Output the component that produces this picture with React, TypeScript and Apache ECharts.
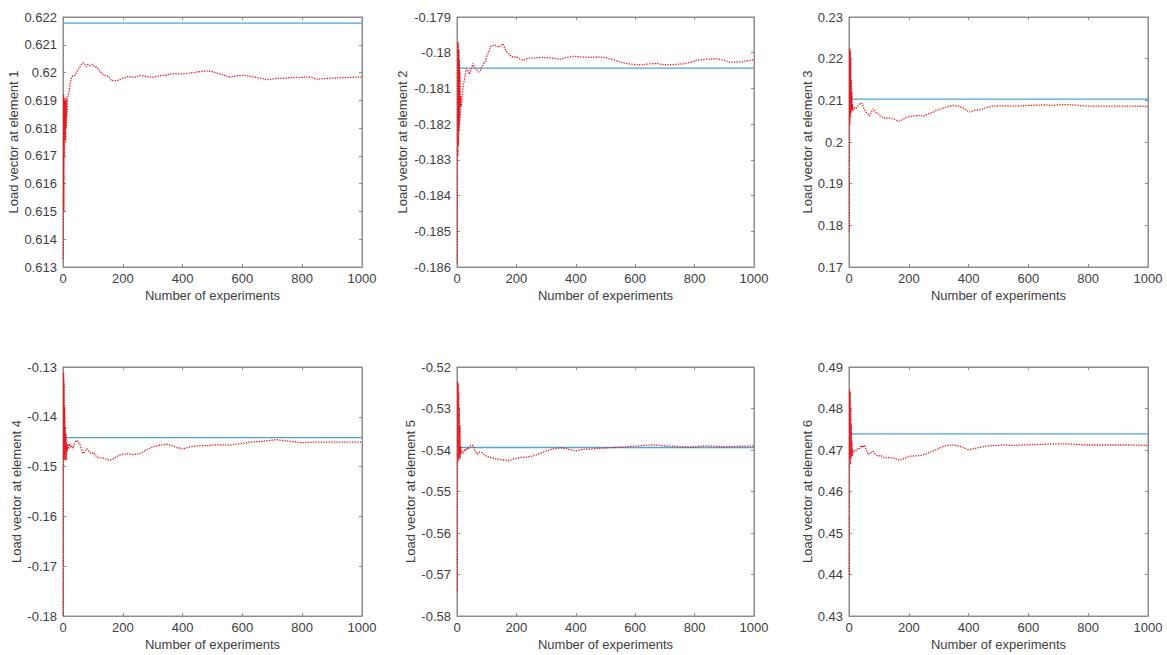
import React, { useEffect, useRef } from "react";
import * as echarts from "echarts";

// ---- data ----
const xTicks = [0, 200, 400, 600, 800, 1000];
const yLabels = [
  "Load vector at element 1",
  "Load vector at element 2",
  "Load vector at element 3",
  "Load vector at element 4",
  "Load vector at element 5",
  "Load vector at element 6",
];
const trueValues = [0.62178, -0.18043, 0.2103, -0.1442, -0.5394, 0.4739];
const yMin = [0.613, -0.186, 0.17, -0.18, -0.58, 0.43];
const yMax = [0.622, -0.179, 0.23, -0.13, -0.52, 0.49];
const yStep = [0.001, 0.001, 0.01, 0.01, 0.01, 0.01];

const xs1 = [1,2,3,4,5,6,7,8,9,10,11,12,13,15,17,20,24,28,33,39,45,50,56,62,67,72,78,84,90,97,105,112,120,128,136,145,153,162,170,179,190,200,212,225,240,246,260,280,302,320,340,369,400,436,460,480,500,525,545,559,580,603,630,660,682,710,737,770,800,827,849,870,905,940,970,1000];
const ys1 = [0.6133,0.6192,0.615,0.6191,0.617,0.619,0.6176,0.6189,0.6175,0.6191,0.618,0.619,0.6184,0.6191,0.6191,0.6193,0.6196,0.6198,0.6199,0.6199,0.62,0.6201,0.6202,0.6203,0.62035,0.6203,0.6202,0.6203,0.62025,0.6203,0.6202,0.6202,0.6201,0.62,0.6199,0.6199,0.61985,0.6197,0.61972,0.6197,0.61975,0.6198,0.61984,0.61985,0.61983,0.61985,0.6199,0.61985,0.61983,0.61988,0.6199,0.61996,0.61995,0.62,0.62004,0.62006,0.62003,0.61995,0.61988,0.61984,0.61988,0.6199,0.61986,0.6198,0.61974,0.61978,0.6198,0.61982,0.61983,0.61984,0.61976,0.61978,0.6198,0.61982,0.61983,0.61984];

const xs2 = [1,2,3,4,5,6,7,8,9,10,11,12,14,17,21,25,28,31,35,39,42,45,50,54,58,63,68,73,78,84,90,95,100,106,112,120,126,133,140,148,155,162,168,176,185,200,212,224,240,260,280,300,320,336,350,370,392,420,448,470,493,520,549,570,594,620,650,673,690,710,729,762,790,807,840,874,900,919,940,964,1000];
const ys2 = [-0.1859,-0.1797,-0.1829,-0.1797,-0.1826,-0.1799,-0.1822,-0.1802,-0.182,-0.1805,-0.1818,-0.1812,-0.1815,-0.1813,-0.1809,-0.18077,-0.1806,-0.18045,-0.1805,-0.1805,-0.1806,-0.18054,-0.1804,-0.1803,-0.1804,-0.18045,-0.1805,-0.18054,-0.1805,-0.1804,-0.1803,-0.18026,-0.1801,-0.18,-0.17984,-0.1798,-0.17979,-0.1798,-0.17985,-0.1798,-0.17975,-0.1799,-0.17998,-0.18005,-0.18012,-0.18012,-0.18018,-0.18021,-0.18015,-0.18015,-0.18013,-0.18014,-0.18015,-0.18017,-0.18018,-0.18013,-0.1801,-0.18012,-0.18013,-0.18012,-0.18013,-0.18018,-0.18026,-0.1803,-0.18033,-0.18034,-0.18031,-0.1803,-0.18033,-0.18034,-0.18033,-0.18031,-0.18026,-0.18021,-0.18018,-0.18017,-0.18021,-0.18027,-0.18026,-0.18025,-0.18019];

const xs3 = [1,2,3,4,5,6,7,8,9,10,11,12,14,16,19,23,27,32,37,41,45,50,56,62,69,75,80,84,90,97,103,110,118,123,130,140,147,155,162,169,180,190,197,210,224,236,250,265,280,292,310,330,348,365,381,395,404,420,437,460,482,510,548,580,615,650,680,716,750,794,840,883,940,1000];
const ys3 = [0.1785,0.2225,0.204,0.222,0.206,0.22,0.207,0.215,0.208,0.212,0.2075,0.209,0.2078,0.2076,0.2082,0.208,0.2084,0.2088,0.2092,0.2094,0.209,0.208,0.2072,0.2068,0.2062,0.2072,0.208,0.2078,0.207,0.2068,0.2064,0.206,0.2058,0.2056,0.2058,0.2057,0.2056,0.2053,0.2051,0.205,0.2054,0.2058,0.206,0.2062,0.2063,0.2064,0.2062,0.2068,0.2071,0.2076,0.208,0.2085,0.2088,0.2086,0.2082,0.2075,0.2072,0.2076,0.2077,0.2083,0.2086,0.2087,0.2086,0.2087,0.2088,0.2089,0.2088,0.209,0.2089,0.2086,0.2086,0.2086,0.2086,0.20856];

const xs4 = [1,2,3,4,5,6,7,8,9,10,11,12,14,16,19,22,26,30,34,38,42,45,50,56,62,67,72,80,88,95,103,112,120,134,145,156,165,179,195,212,235,257,280,302,325,346,365,380,402,430,458,485,514,545,570,600,637,660,682,715,740,771,800,838,870,905,950,1000];
const ys4 = [-0.18,-0.1312,-0.1485,-0.133,-0.148,-0.138,-0.1488,-0.142,-0.1475,-0.1435,-0.1487,-0.145,-0.147,-0.1455,-0.1465,-0.1454,-0.1462,-0.1458,-0.1463,-0.1455,-0.145,-0.1447,-0.145,-0.1455,-0.1465,-0.1474,-0.147,-0.1464,-0.147,-0.1474,-0.1472,-0.148,-0.1482,-0.1483,-0.1485,-0.1487,-0.1486,-0.148,-0.1476,-0.1474,-0.1476,-0.1474,-0.1466,-0.146,-0.1457,-0.1455,-0.1458,-0.1462,-0.1464,-0.146,-0.1458,-0.1458,-0.1456,-0.1457,-0.1456,-0.1453,-0.145,-0.145,-0.1448,-0.1446,-0.1448,-0.145,-0.1452,-0.1451,-0.1451,-0.1451,-0.1451,-0.1451];

const xs5 = [1,2,3,4,5,6,7,8,9,10,11,12,14,17,22,26,30,34,38,42,45,50,54,60,67,75,84,92,101,115,134,150,174,190,213,235,258,280,303,320,336,350,370,390,404,425,448,475,504,530,561,590,628,650,673,700,729,760,785,815,841,870,897,950,1000];
const ys5 = [-0.574,-0.5235,-0.543,-0.524,-0.542,-0.526,-0.5425,-0.53,-0.5415,-0.534,-0.542,-0.539,-0.541,-0.5402,-0.5408,-0.5398,-0.5402,-0.5394,-0.5398,-0.5392,-0.539,-0.5388,-0.539,-0.54,-0.541,-0.5405,-0.5406,-0.5412,-0.5416,-0.5418,-0.5422,-0.5423,-0.5426,-0.5422,-0.5418,-0.5417,-0.5414,-0.5408,-0.5402,-0.5398,-0.5396,-0.5395,-0.5397,-0.5401,-0.5402,-0.5398,-0.5398,-0.5396,-0.5395,-0.5394,-0.5393,-0.5391,-0.5389,-0.5388,-0.5388,-0.539,-0.5391,-0.5392,-0.5393,-0.5391,-0.539,-0.5391,-0.5392,-0.5391,-0.539];

const xs6 = [1,2,3,4,5,6,7,8,9,10,11,12,14,16,20,24,27,32,36,41,46,52,58,64,70,80,88,97,105,119,130,147,158,169,185,203,225,247,270,292,310,326,348,370,385,398,415,437,465,493,520,548,580,615,660,716,750,794,840,883,940,1000];
const ys6 = [0.44,0.4845,0.468,0.484,0.4665,0.48,0.468,0.476,0.469,0.472,0.4685,0.47,0.4693,0.4697,0.47,0.4698,0.4702,0.4705,0.4703,0.4711,0.4706,0.4712,0.47,0.4689,0.4692,0.4697,0.469,0.4685,0.4687,0.4681,0.4682,0.4681,0.4678,0.4675,0.468,0.4685,0.4686,0.4688,0.4694,0.4701,0.4707,0.4711,0.4712,0.4709,0.4705,0.4701,0.4703,0.4706,0.471,0.4711,0.4712,0.4711,0.4712,0.4713,0.4714,0.4715,0.4714,0.4712,0.4712,0.4712,0.4712,0.4711];

const estX = [xs1, xs2, xs3, xs4, xs5, xs6];
const estY = [ys1, ys2, ys3, ys4, ys5, ys6];

// ---- layout ----
const PANELS = [
  { left: 63, top: 17, width: 299, height: 250, nameGap: 43 },
  { left: 457, top: 17, width: 297, height: 250, nameGap: 48 },
  { left: 849, top: 17, width: 299, height: 250, nameGap: 34 },
  { left: 63, top: 367, width: 299, height: 249, nameGap: 35 },
  { left: 457, top: 367, width: 297, height: 249, nameGap: 38 },
  { left: 849, top: 367, width: 299, height: 249, nameGap: 33 },
];

const FONT = "'Liberation Sans', Arial, sans-serif";
const TEXT = "#404040";
const AXIS = "#8c8c8c";

export default function App() {
  const ref = useRef<HTMLDivElement>(null);
  useEffect(() => {
    if (!ref.current) return;
    const chart = echarts.init(ref.current, undefined, { renderer: "svg" });
    const grid: any[] = [];
    const xAxis: any[] = [];
    const yAxis: any[] = [];
    const series: any[] = [];
    const fmt = (v: number) => String(Number(v.toFixed(4)));
    PANELS.forEach((p, i) => {
      grid.push({ left: p.left, top: p.top, width: p.width, height: p.height, show: true, borderColor: AXIS, borderWidth: 1, backgroundColor: "#fff" });
      const baseX = {
        type: "value", gridIndex: i, min: xTicks[0], max: xTicks[xTicks.length - 1], interval: xTicks[1] - xTicks[0],
        axisLine: { show: true, onZero: false, lineStyle: { color: AXIS, width: 1 } },
        axisTick: { show: true, inside: true, length: 3, lineStyle: { color: AXIS } },
        splitLine: { show: false },
      };
      xAxis.push({
        ...baseX, position: "bottom",
        axisLabel: { show: true, color: TEXT, fontSize: 13, fontFamily: FONT, margin: 5, formatter: (v: number) => String(v) },
        name: "Number of experiments", nameLocation: "middle", nameGap: 22,
        nameTextStyle: { color: TEXT, fontSize: 13, fontFamily: FONT },
      });
      xAxis.push({ ...baseX, position: "top", axisLabel: { show: false } });
      const baseY = {
        type: "value", gridIndex: i, min: yMin[i], max: yMax[i], interval: yStep[i],
        axisLine: { show: true, onZero: false, lineStyle: { color: AXIS, width: 1 } },
        axisTick: { show: true, inside: true, length: 3, lineStyle: { color: AXIS } },
        splitLine: { show: false },
      };
      yAxis.push({
        ...baseY, position: "left",
        axisLabel: { show: true, color: TEXT, fontSize: 13, fontFamily: FONT, margin: 6, formatter: fmt },
        name: yLabels[i], nameLocation: "middle", nameGap: p.nameGap, nameRotate: 90,
        nameTextStyle: { color: TEXT, fontSize: 13, fontFamily: FONT },
      });
      yAxis.push({ ...baseY, position: "right", axisLabel: { show: false } });
      const xi = i * 2;
      series.push({
        type: "line", xAxisIndex: xi, yAxisIndex: xi, showSymbol: false, symbol: "none",
        data: [[0, trueValues[i]], [1000, trueValues[i]]],
        lineStyle: { color: "#4ea3d8", width: 1.3 }, z: 2,
      });
      series.push({
        type: "line", xAxisIndex: xi, yAxisIndex: xi, showSymbol: false, symbol: "none",
        data: estX[i].map((x, k) => [x, estY[i][k]]),
        lineStyle: { color: "#e8141c", width: 1.3, type: [1.3, 1.3] }, z: 3,
      });
    });
    chart.setOption({ animation: false, backgroundColor: "#fff", grid, xAxis, yAxis, series });
    return () => chart.dispose();
  }, []);
  return <div ref={ref} style={{ position: "absolute", left: 0, top: 0, width: 1167, height: 655, background: "#fff" }} />;
}
